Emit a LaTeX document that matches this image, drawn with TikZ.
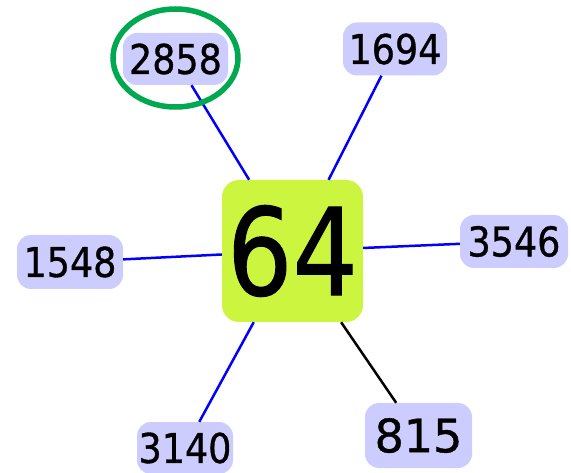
\documentclass[tikz,border=0pt]{standalone}
\usepackage{fontspec}
\setmainfont{DejaVu Sans}
\newfontfamily\leaffont[FakeBold=0.9]{DejaVu Sans}
\usetikzlibrary{shapes.geometric}
\definecolor{lav}{RGB}{204,204,255}
\definecolor{lime}{RGB}{204,245,64}
\definecolor{ringgreen}{RGB}{0,168,80}
\tikzset{
  leaf/.style={fill=lav, rounded corners=14pt, inner sep=0pt, text=black},
  hub/.style={fill=lime, rounded corners=17pt, inner sep=0pt, minimum width=141pt, minimum height=142pt},
  blueedge/.style={draw=blue, line width=2.5pt},
  blackedge/.style={draw=black, line width=2.5pt},
  ring/.style={ellipse, draw=ringgreen, line width=5.5pt, inner sep=0pt}
}
\newcommand{\lab}[1]{\scalebox{0.89}[1]{\leaffont\fontsize{41}{41}\selectfont #1}}
\begin{document}
\begin{tikzpicture}[x=1pt,y=-1pt]
\useasboundingbox (0,0) rectangle (571,473);
\node[hub] (c) at (292.5,251) {\scalebox{0.85}[1]{\leaffont\fontsize{121}{121}\selectfont 64}};
\node[leaf, minimum width=105pt, minimum height=52pt] (a) at (175.5,59) {\lab{2858}};
\node[leaf, minimum width=104pt, minimum height=53pt] (b) at (395,49) {\lab{1694}};
\node[leaf, minimum width=108pt, minimum height=53pt] (d) at (514,241.5) {\lab{3546}};
\node[leaf, minimum width=106pt, minimum height=54pt] (e) at (70,262) {\lab{1548}};
\node[leaf, minimum width=96pt, minimum height=52pt] (f) at (185,448) {\lab{3140}};
\node[leaf, minimum width=107pt, minimum height=65pt] (g) at (418.5,435.5) {\scalebox{1.0}[1]{\leaffont\fontsize{46}{46}\selectfont 815}};
\draw[blueedge] (a) -- (c);
\draw[blueedge] (b) -- (c);
\draw[blueedge] (d) -- (c);
\draw[blueedge] (e) -- (c);
\draw[blueedge] (f) -- (c);
\draw[blackedge] (g) -- (c);
\node[ring, minimum width=125pt, minimum height=98pt] (hl) at (175.5,58) {};
\end{tikzpicture}
\end{document}
